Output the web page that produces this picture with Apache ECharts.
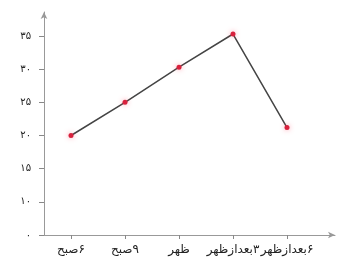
<!DOCTYPE html>
<html>
<head>
<meta charset="utf-8">
<script src="https://cdn.jsdelivr.net/npm/echarts@6/dist/echarts.min.js"></script>
<style>
  html, body { margin: 0; padding: 0; background: #fff; }
  #chart { width: 339px; height: 272px; }
</style>
</head>
<body>
<div id="chart" dir="rtl"></div>
<script>
// categories (hours of the day)
const categories = ['۶صبح', '۹صبح', 'ظهر', '۳بعدازظهر', '۶بعدازظهر']
const values = [20, 25, 30.3, 35.3, 21.2]
// y tick labels, bottom to top (the bottom tick is printed as zero)
const yLabels = ['۰', '۱۰', '۱۵', '۲۰', '۲۵', '۳۰', '۳۵']
const yMin = 5
const yMax = 35
const yStep = 5

const chart = echarts.init(document.getElementById('chart'))
const font = 'DejaVu Sans'

chart.setOption({
  animation: false,
  grid: [
    // data grid
    { left: 44, top: 36, width: 270, bottom: 37 },
    // grid used only to draw the long axis lines with arrows
    { left: 44, top: 12, right: 4, bottom: 37 }
  ],
  xAxis: [{
    type: 'category',
    gridIndex: 0,
    data: categories,
    boundaryGap: true,
    axisLine: { show: false },
    axisTick: { show: true, alignWithLabel: true, length: 4, lineStyle: { color: '#888' } },
    axisLabel: { margin: 9, color: '#222', fontFamily: font, fontSize: 12, interval: 0 }
  }, {
    type: 'value',
    gridIndex: 1,
    min: 0,
    max: 1,
    axisLine: { show: true, symbol: ['none', 'arrow'], symbolSize: [5, 7], lineStyle: { color: '#999', width: 1 } },
    axisTick: { show: false },
    axisLabel: { show: false },
    splitLine: { show: false }
  }],
  yAxis: [{
    type: 'value',
    gridIndex: 0,
    min: yMin,
    max: yMax,
    interval: yStep,
    axisLine: { show: false },
    axisTick: { show: true, length: 5, lineStyle: { color: '#888' } },
    axisLabel: {
      margin: 13,
      color: '#222',
      fontFamily: font,
      fontSize: 10,
      formatter: v => yLabels[Math.round((v - yMin) / yStep)]
    },
    splitLine: { show: false }
  }, {
    type: 'value',
    gridIndex: 1,
    min: 0,
    max: 1,
    axisLine: { show: true, symbol: ['none', 'arrow'], symbolSize: [5, 7], lineStyle: { color: '#999', width: 1 } },
    axisTick: { show: false },
    axisLabel: { show: false },
    splitLine: { show: false }
  }],
  series: [{
    type: 'line',
    xAxisIndex: 0,
    yAxisIndex: 0,
    data: values,
    clip: false,
    symbol: 'circle',
    symbolSize: 5,
    lineStyle: { color: '#444', width: 1.5 },
    itemStyle: { color: '#d8203c', shadowBlur: 5, shadowColor: 'rgba(255,60,90,0.5)' }
  }]
})
</script>
</body>
</html>
